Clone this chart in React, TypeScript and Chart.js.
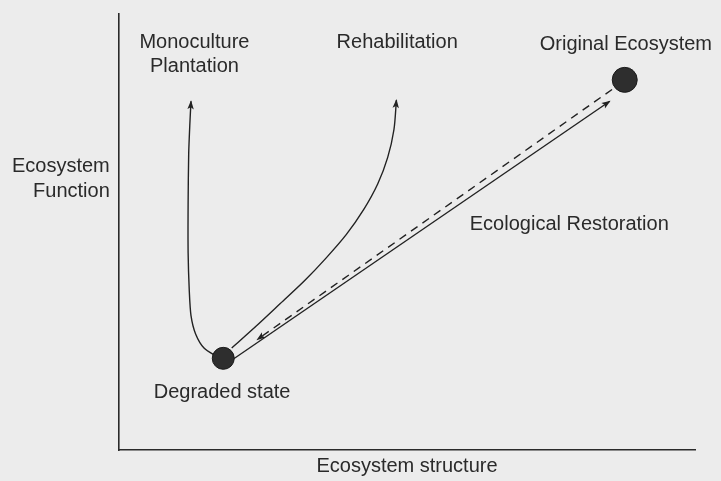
import React, { useEffect, useRef } from "react";
import { Chart, registerables } from "chart.js";

Chart.register(...registerables);

// Points of interest (data units: structure 0-100, function 0-100)
const degradedState = { x: 18.1, y: 21.0 };
const originalEcosystem = { x: 87.8, y: 84.8 };

// Trajectory: degraded -> monoculture plantation
const monocultureX = [17.0, 14.8, 13.3, 12.5, 12.2, 12.0, 12.0, 12.1, 12.3, 12.5];
const monocultureY = [21.4, 23.3, 26.6, 30.8, 36.5, 45.2, 56.6, 67.9, 74.7, 79.9];

// Trajectory: degraded -> rehabilitation
const rehabX = [19.57, 23.78, 28.0, 32.2, 35.94, 39.48, 42.47, 44.91, 46.65, 47.73, 48.16];
const rehabY = [23.37, 28.35, 33.55, 38.76, 43.96, 49.39, 55.05, 60.93, 67.04, 73.37, 80.16];

// Trajectory: degraded -> original ecosystem (ecological restoration)
const restorationX = [19.8, 85.2];
const restorationY = [20.8, 79.9];

// Dashed return path: original -> degraded
const returnX = [85.6, 24.0];
const returnY = [82.6, 25.3];

// Text labels
const labelTexts = [
  "Monoculture",
  "Plantation",
  "Rehabilitation",
  "Original Ecosystem",
  "Ecosystem",
  "Function",
  "Ecological Restoration",
  "Degraded state",
  "Ecosystem structure",
];
const labelX = [13.1, 13.1, 48.3, 88.0, -1.6, -1.6, 60.9, 17.9, 50.0];
const labelY = [93.4, 87.8, 93.4, 92.8, 64.9, 59.3, 51.6, 13.1, -3.8];
const labelAlign: CanvasTextAlign[] = [
  "center",
  "center",
  "center",
  "center",
  "right",
  "right",
  "left",
  "center",
  "center",
];

const INK = "#222222";
const FONT = '20px "Liberation Sans", Arial, sans-serif';

const zip = (xs: number[], ys: number[]) => xs.map((x, i) => ({ x, y: ys[i] }));

const decorPlugin = {
  id: "decor",
  afterDatasetsDraw(chart: any) {
    const ctx = chart.ctx as CanvasRenderingContext2D;
    const xs = chart.scales.x;
    const ys = chart.scales.y;
    // arrowheads
    chart.data.datasets.forEach((ds: any, i: number) => {
      if (!ds.arrow) return;
      const pts = chart.getDatasetMeta(i).data;
      const a = pts[pts.length - 2];
      const b = pts[pts.length - 1];
      const ang = Math.atan2(b.y - a.y, b.x - a.x);
      const len = 8;
      const half = 3.2;
      ctx.save();
      ctx.translate(b.x, b.y);
      ctx.rotate(ang);
      ctx.fillStyle = INK;
      ctx.beginPath();
      ctx.moveTo(1, 0);
      ctx.lineTo(-len, -half);
      ctx.lineTo(-len + 2, 0);
      ctx.lineTo(-len, half);
      ctx.closePath();
      ctx.fill();
      ctx.restore();
    });
    // labels
    ctx.save();
    ctx.fillStyle = "#2a2a2a";
    ctx.font = FONT;
    ctx.textBaseline = "middle";
    labelTexts.forEach((t, i) => {
      ctx.textAlign = labelAlign[i];
      ctx.fillText(t, xs.getPixelForValue(labelX[i]), ys.getPixelForValue(labelY[i]));
    });
    ctx.restore();
  },
};

export default function App() {
  const ref = useRef<HTMLCanvasElement | null>(null);

  useEffect(() => {
    if (!ref.current) return;
    const lineBase = {
      type: "line" as const,
      borderColor: INK,
      borderWidth: 1.4,
      pointRadius: 0,
      fill: false,
      showLine: true,
    };
    const chart = new Chart(ref.current, {
      type: "scatter",
      data: {
        datasets: [
          {
            label: "States",
            data: [degradedState, originalEcosystem],
            pointRadius: [11, 12.5],
            pointBackgroundColor: "#2e2e2e",
            pointBorderColor: "#1a1a1a",
            pointBorderWidth: 1,
            showLine: false,
          } as any,
          { ...lineBase, label: "Monoculture", data: zip(monocultureX, monocultureY), tension: 0.25, arrow: true } as any,
          { ...lineBase, label: "Rehabilitation", data: zip(rehabX, rehabY), tension: 0.3, arrow: true } as any,
          { ...lineBase, label: "Restoration", data: zip(restorationX, restorationY), tension: 0, arrow: true } as any,
          {
            ...lineBase,
            label: "Return",
            data: zip(returnX, returnY),
            tension: 0,
            borderDash: [8, 6],
            arrow: true,
          } as any,
        ],
      },
      options: {
        animation: false,
        responsive: false,
        layout: { padding: { left: 119, right: 26, top: 8, bottom: 31 } },
        plugins: { legend: { display: false }, tooltip: { enabled: false } },
        scales: {
          x: {
            type: "linear",
            min: 0,
            max: 100,
            grid: { display: false, drawTicks: false },
            ticks: { display: false },
            border: { display: true, color: "#2a2a2a", width: 1.6 },
          },
          y: {
            type: "linear",
            min: 0,
            max: 100,
            grid: { display: false, drawTicks: false },
            ticks: { display: false },
            border: { display: true, color: "#2a2a2a", width: 1.6 },
          },
        },
      },
      plugins: [decorPlugin],
    });
    return () => chart.destroy();
  }, []);

  return (
    <div
      style={{
        position: "fixed",
        left: 0,
        top: 0,
        width: 721,
        height: 481,
        background: "#ececec",
      }}
    >
      <canvas ref={ref} width={721} height={481} />
    </div>
  );
}
